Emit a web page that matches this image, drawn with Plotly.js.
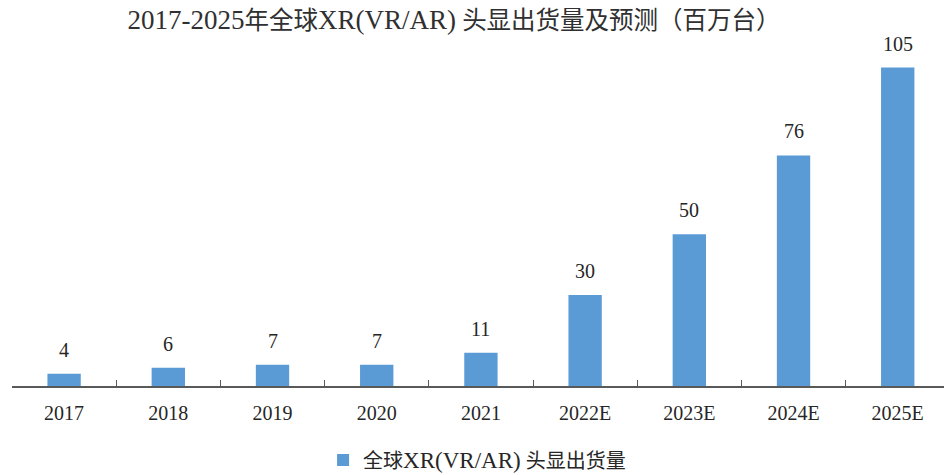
<!DOCTYPE html>
<html><head><meta charset="utf-8">
<script src="https://cdn.plot.ly/plotly-3.0.1.min.js"></script>
<style>body{margin:0;background:#fff}#c{width:944px;height:475px}</style>
</head><body><div id="c"></div>
<script>
const categories = ['2017','2018','2019','2020','2021','2022E','2023E','2024E','2025E'];
const shipments = [4, 6, 7, 7, 11, 30, 50, 76, 105];
const seriesName = '全球XR(VR/AR) 头显出货量';
const chartTitle = '2017-2025年全球XR(VR/AR) 头显出货量及预测（百万台）';

const FONT = '"Liberation Serif", "Noto Sans CJK SC", serif';
const widenLatin = (s, px) => s.replace(/[\x21-\x7e]+/g, m => `<span style="font-size:${px}px">${m}</span>`);

const annotations = shipments.map((v, i) => ({
  x: i, y: v, xref: 'x', yref: 'y', text: String(v), showarrow: false,
  yanchor: 'bottom', yshift: 11, font: {family: FONT, size: 20, color: '#262626'}
}));

Plotly.newPlot('c', [{
  type: 'bar', x: categories, y: shipments, name: widenLatin(seriesName, 23),
  marker: {color: '#5B9BD5'}, showlegend: true
}], {
  width: 944, height: 475,
  margin: {l: 12, r: 0, t: 22, b: 89, autoexpand: false},
  paper_bgcolor: '#fff', plot_bgcolor: '#fff',
  bargap: 0.68,
  title: {text: widenLatin(chartTitle, 27), x: 0.481, xanchor: 'center', y: 0.958, yanchor: 'middle',
    font: {family: FONT, size: 24.5, color: '#303030'}},
  xaxis: {type: 'category', range: [-0.5, 8.444],
    showline: true, linecolor: '#595959', linewidth: 1.5,
    ticks: 'inside', tickson: 'boundaries', ticklen: 6, tickcolor: '#595959', tickwidth: 1,
    ticklabelstandoff: 8,
    showgrid: false, zeroline: false,
    tickfont: {family: FONT, size: 20, color: '#262626'}},
  yaxis: {range: [0, 120], visible: false, showgrid: false, zeroline: false},
  showlegend: true,
  legend: {orientation: 'h', x: 0.499, xanchor: 'center', y: -0.203, yanchor: 'middle',
    itemwidth: 30, font: {family: FONT, size: 20, color: '#262626'}},
  annotations: annotations
}, {displayModeBar: false});
</script></body></html>
